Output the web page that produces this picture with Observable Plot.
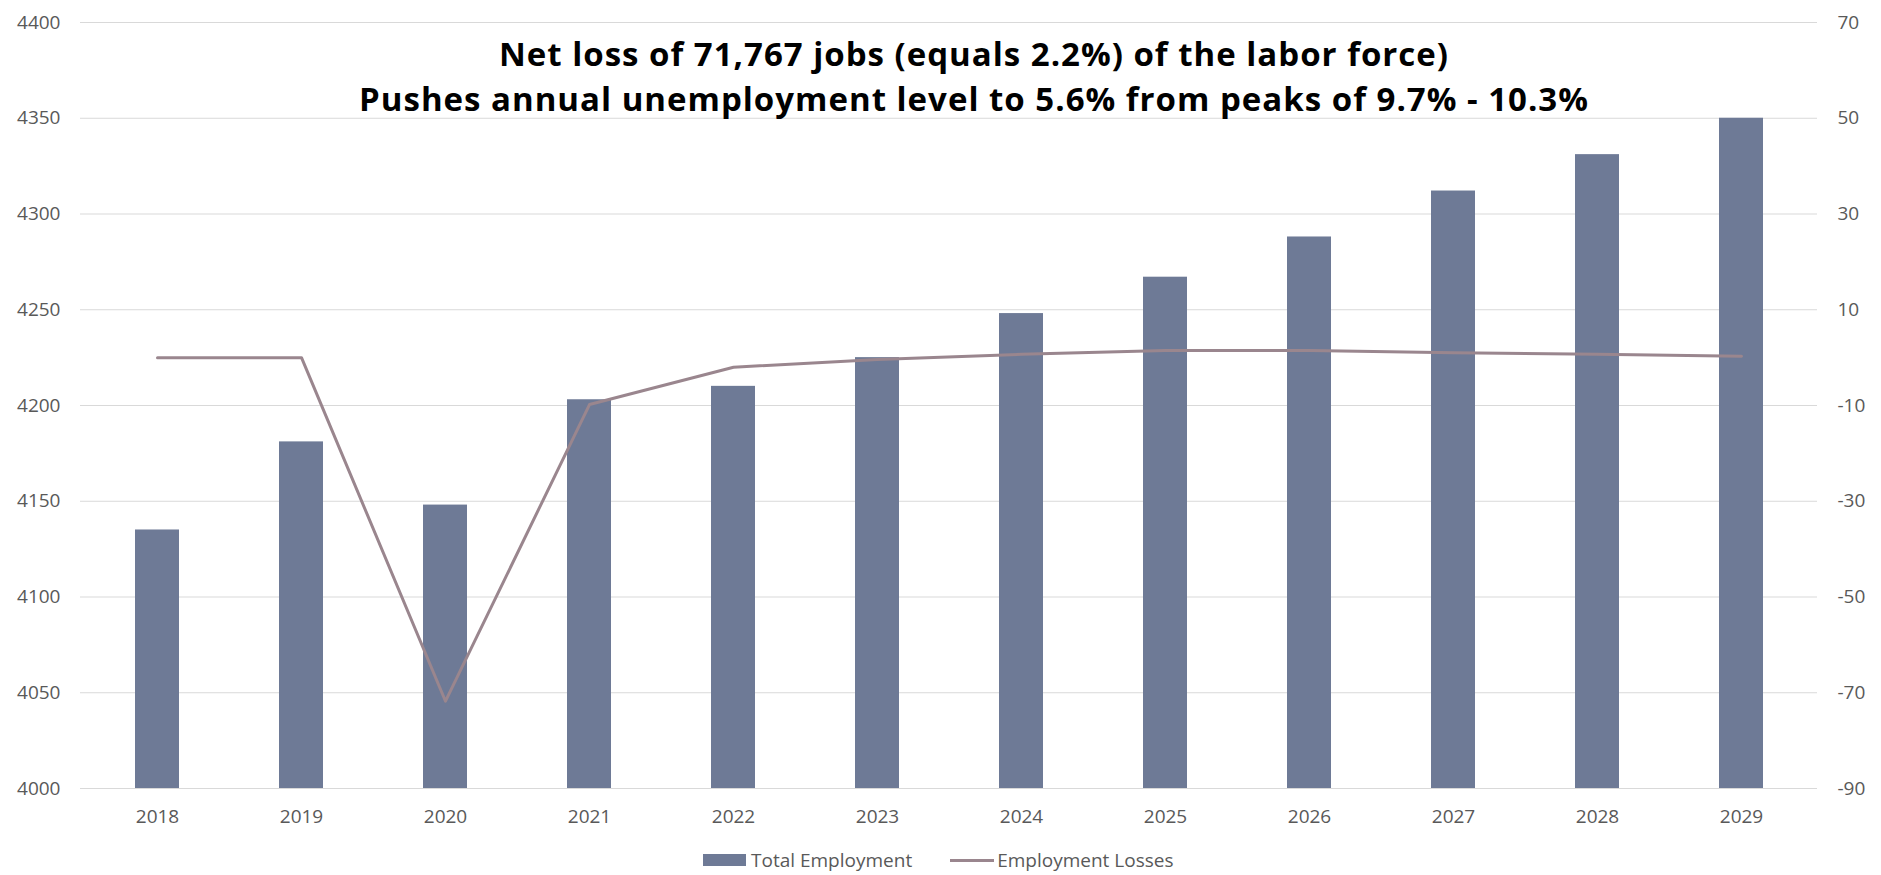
<!DOCTYPE html>
<html>
<head>
<meta charset="utf-8">
<script src="https://cdn.jsdelivr.net/npm/d3@7"></script>
<script src="https://cdn.jsdelivr.net/npm/@observablehq/plot@0.6"></script>
<style>
  html, body { margin: 0; padding: 0; background: #fff; }
  #wrap { position: relative; width: 1881px; height: 875px; font-family: "Open Sans", sans-serif; }
  .tline { position: absolute; left: 0; width: 1948px; text-align: center; font-weight: 700; font-size: 33px; letter-spacing: 1px; line-height: 45px; height: 45px; color: #000; white-space: nowrap; }
  #t1 { top: 31px; }
  #t2 { top: 76px; }
  #legend { position: absolute; top: 847px; left: 703px; font-size: 19px; color: #595959; display: flex; align-items: center; white-space: nowrap; }
  .item { display: inline-flex; align-items: center; }
  .sw-bar { display: inline-block; width: 43px; height: 12px; background: #6e7a96; margin-right: 5px; }
  .sw-line { display: inline-block; width: 44px; height: 3px; background: #9a868e; margin-right: 3px; margin-left: 38px; }
</style>
</head>
<body>
<div id="wrap">
  <div id="chart"></div>
  <div class="tline" id="t1">Net loss of 71,767 jobs (equals 2.2%) of the labor force)</div>
  <div class="tline" id="t2">Pushes annual unemployment level to 5.6% from peaks of 9.7% - 10.3%</div>
  <div id="legend">
    <span class="item"><span class="sw-bar"></span>Total Employment</span><span class="item"><span class="sw-line"></span>Employment Losses</span>
  </div>
</div>
<script>
const years = ["2018","2019","2020","2021","2022","2023","2024","2025","2026","2027","2028","2029"];
const totalEmployment = [4135, 4181, 4148, 4203, 4210, 4225, 4248, 4267, 4288, 4312, 4331, 4350];
const employmentLosses = [0, 0, -71.767, -9.8, -2.0, -0.4, 0.7, 1.5, 1.5, 1.0, 0.7, 0.3];
const leftTicks = [4000, 4050, 4100, 4150, 4200, 4250, 4300, 4350, 4400];
const rightTicks = [-90, -70, -50, -30, -10, 10, 30, 50, 70];

const data = years.map((y, i) => ({year: y, total: totalEmployment[i], loss: employmentLosses[i]}));
// map the secondary (right) axis onto the primary y scale
const rMin = rightTicks[0], rMax = rightTicks[rightTicks.length - 1];
const lMin = leftTicks[0], lMax = leftTicks[leftTicks.length - 1];
const toLeft = v => lMin + (v - rMin) * (lMax - lMin) / (rMax - rMin);
const toRight = v => rMin + (v - lMin) * (rMax - rMin) / (lMax - lMin);

const chart = Plot.plot({
  width: 1881,
  height: 840,
  marginLeft: 80,
  marginRight: 64,
  marginTop: 22,
  marginBottom: 52,
  style: {fontFamily: "Open Sans, sans-serif", fontSize: "19px", color: "#595959", background: "transparent"},
  x: {type: "band", domain: years, paddingInner: 0.696, paddingOuter: 0.348, label: null},
  y: {domain: [lMin, lMax], label: null},
  marks: [
    Plot.gridY(leftTicks, {stroke: "#d9d9d9", strokeOpacity: 1, strokeWidth: 1}),
    Plot.barY(data, {x: "year", y1: lMin, y2: "total", fill: "#6e7a96"}),
    Plot.line(data, {x: "year", y: d => toLeft(d.loss), stroke: "#9a868e", strokeWidth: 3}),
    Plot.axisY(leftTicks, {anchor: "left", tickSize: 0, tickPadding: 20, label: null, tickFormat: d => String(d)}),
    Plot.axisY(leftTicks, {anchor: "right", tickSize: 0, tickPadding: 20, label: null, tickFormat: d => String(Math.round(toRight(d)))}),
    Plot.axisX({tickSize: 0, tickPadding: 21, label: null})
  ]
});
document.getElementById("chart").appendChild(chart);
</script>
</body>
</html>
